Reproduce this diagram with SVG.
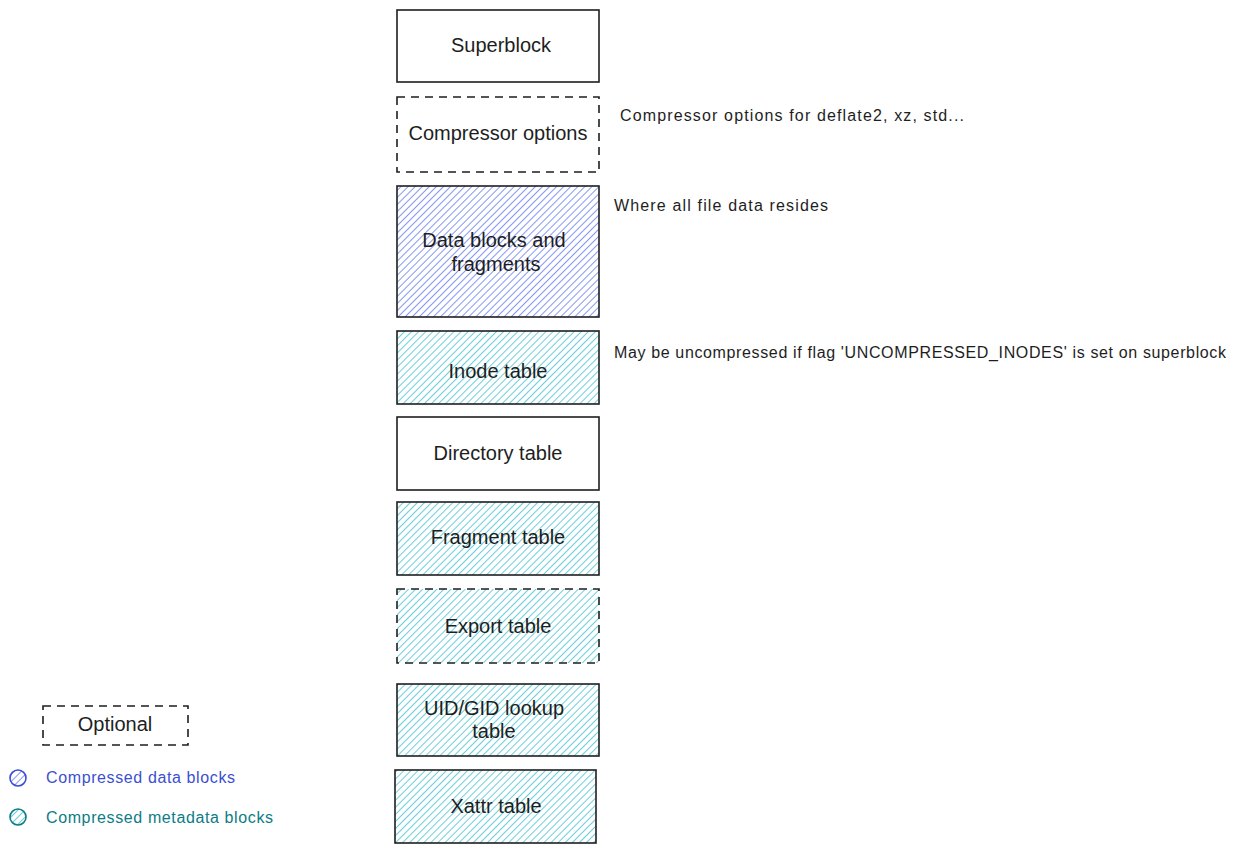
<svg xmlns="http://www.w3.org/2000/svg" width="1245" height="852" viewBox="0 0 1245 852">
<style>
.box{stroke:#1e1e1e;stroke-width:1.6;}
.dash{stroke-dasharray:8 6;}
.plain{fill:#ffffff;}
.blue{fill:url(#hatchBlue);}
.teal{fill:url(#hatchTeal);}
.lbl{font-family:"Liberation Sans",Arial,sans-serif;font-size:20px;fill:#1e1e1e;text-anchor:middle;dominant-baseline:central;}
.note{font-family:"Liberation Sans",Arial,sans-serif;font-size:16px;fill:#1e1e1e;dominant-baseline:central;}
.legB{font-family:"Liberation Sans",Arial,sans-serif;font-size:16px;fill:#3b4fd0;dominant-baseline:central;}
.legT{font-family:"Liberation Sans",Arial,sans-serif;font-size:16px;fill:#0c7c85;dominant-baseline:central;}
</style>
<defs>
<pattern id="hatchBlue" patternUnits="userSpaceOnUse" width="5" height="5" patternTransform="rotate(45)">
<rect width="5" height="5" fill="#ffffff"/>
<line x1="0" y1="0" x2="0" y2="5" stroke="#8797f2" stroke-width="2"/>
</pattern>
<pattern id="hatchTeal" patternUnits="userSpaceOnUse" width="5" height="5" patternTransform="rotate(45)">
<rect width="5" height="5" fill="#ffffff"/>
<line x1="0" y1="0" x2="0" y2="5" stroke="#6ccfda" stroke-width="2"/>
</pattern>
</defs>
<rect width="1245" height="852" fill="#ffffff"/>

<g id="superblock">
<rect class="box plain" x="397" y="10" width="202" height="72"/>
<text class="lbl" x="501" y="45">Superblock</text>
</g>
<g id="compressor-options">
<rect class="box plain dash" x="397" y="97" width="202" height="75"/>
<text class="lbl" x="498" y="133">Compressor options</text>
</g>
<g id="data-blocks">
<rect class="box blue" x="397" y="186" width="202" height="131"/>
<text class="lbl" x="494" y="240">Data blocks and</text>
<text class="lbl" x="496" y="264">fragments</text>
</g>
<g id="inode-table">
<rect class="box teal" x="397" y="331" width="202" height="73"/>
<text class="lbl" x="498" y="371">Inode table</text>
</g>
<g id="directory-table">
<rect class="box plain" x="397" y="417" width="202" height="73"/>
<text class="lbl" x="498" y="453">Directory table</text>
</g>
<g id="fragment-table">
<rect class="box teal" x="397" y="502" width="202" height="73"/>
<text class="lbl" x="498" y="537">Fragment table</text>
</g>
<g id="export-table">
<rect class="box teal dash" x="397" y="589" width="202" height="74"/>
<text class="lbl" x="498" y="626">Export table</text>
</g>
<g id="uid-gid-table">
<rect class="box teal" x="397" y="684" width="202" height="72"/>
<text class="lbl" x="494" y="708">UID/GID lookup</text>
<text class="lbl" x="494" y="731">table</text>
</g>
<g id="xattr-table">
<rect class="box teal" x="395" y="770" width="201" height="73"/>
<text class="lbl" x="496" y="806">Xattr table</text>
</g>

<g id="notes">
<text class="note" x="620" y="115" textLength="344" lengthAdjust="spacing">Compressor options for deflate2, xz, std...</text>
<text class="note" x="614" y="205" textLength="214" lengthAdjust="spacing">Where all file data resides</text>
<text class="note" x="614" y="352" textLength="612" lengthAdjust="spacing">May be uncompressed if flag 'UNCOMPRESSED_INODES' is set on superblock</text>
</g>

<g id="legend">
<rect class="box plain dash" x="43" y="706" width="145" height="39"/>
<text class="lbl" x="115" y="724">Optional</text>
<circle cx="18" cy="778" r="8" fill="url(#hatchBlue)" stroke="#3b4fd0" stroke-width="1.6"/>
<text class="legB" x="46" y="777" textLength="189" lengthAdjust="spacing">Compressed data blocks</text>
<circle cx="18" cy="817" r="8" fill="url(#hatchTeal)" stroke="#0c7c85" stroke-width="1.6"/>
<text class="legT" x="46" y="817" textLength="227" lengthAdjust="spacing">Compressed metadata blocks</text>
</g>
<g id="connectors"></g>
</svg>
